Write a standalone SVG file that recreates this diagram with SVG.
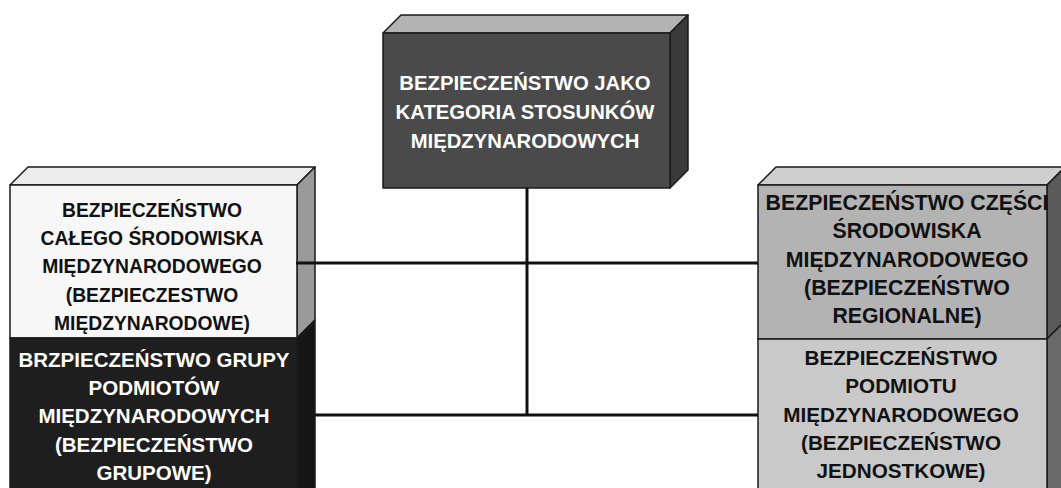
<svg xmlns="http://www.w3.org/2000/svg" width="1061" height="488" viewBox="0 0 1061 488">
<style>
.t{font-family:"Liberation Sans",Arial,sans-serif;font-weight:bold;text-anchor:middle}
.w{fill:#ffffff}
.k{fill:#111111}
.e{stroke:#1a1a1a;stroke-width:1.5;stroke-linejoin:round}
.c{stroke:#111111;stroke-width:3;fill:none}
</style>
<rect width="1061" height="488" fill="#ffffff"/>
<g id="node-top">
<polygon class="e" points="383,33 401,15 688,15 670,33" fill="#b3b3b3"/>
<polygon class="e" points="670,33 688,15 688,170 670,188" fill="#3a3a3a"/>
<rect class="e" x="383" y="33" width="287" height="155" fill="#4a4a4a"/>
<text class="t w" font-size="20.3" x="525" y="90">BEZPIECZEŃSTWO JAKO</text>
<text class="t w" font-size="20.3" x="525" y="119">KATEGORIA STOSUNKÓW</text>
<text class="t w" font-size="20.3" x="525" y="148">MIĘDZYNARODOWYCH</text>
</g>
<g id="node-left-top">
<polygon class="e" points="10,185 28,167 315,167 297,185" fill="#ececec"/>
<polygon class="e" points="297,185 315,167 315,320 297,338" fill="#9a9a9a"/>
<rect class="e" x="10" y="185" width="287" height="153" fill="#f7f7f7"/>
<text class="t k" font-size="19.3" x="152" y="217">BEZPIECZEŃSTWO</text>
<text class="t k" font-size="19.3" x="152" y="245">CAŁEGO ŚRODOWISKA</text>
<text class="t k" font-size="19.3" x="152" y="273">MIĘDZYNARODOWEGO</text>
<text class="t k" font-size="19.3" x="152" y="302">(BEZPIECZESTWO</text>
<text class="t k" font-size="19.3" x="152" y="330">MIĘDZYNARODOWE)</text>
</g>
<g id="node-left-bottom">
<polygon class="e" points="297,338 315,320 315,490 297,490" fill="#161616"/>
<rect class="e" x="10" y="338" width="287" height="152" fill="#1e1e1e"/>
<text class="t w" font-size="20.5" x="154" y="367">BRZPIECZEŃSTWO GRUPY</text>
<text class="t w" font-size="20.5" x="154" y="395">PODMIOTÓW</text>
<text class="t w" font-size="20.5" x="154" y="423">MIĘDZYNARODOWYCH</text>
<text class="t w" font-size="20.5" x="154" y="452">(BEZPIECZEŃSTWO</text>
<text class="t w" font-size="20.5" x="154" y="480">GRUPOWE)</text>
</g>
<g id="node-right-top">
<polygon class="e" points="758,185 776,167 1065,167 1047,185" fill="#cfcfcf"/>
<polygon class="e" points="1047,185 1065,167 1065,321 1047,339" fill="#5a5a5a"/>
<rect class="e" x="758" y="185" width="289" height="154" fill="#b3b3b3"/>
<text class="t k" font-size="21.3" x="907" y="210">BEZPIECZEŃSTWO CZĘŚCI</text>
<text class="t k" font-size="21.3" x="907" y="238">ŚRODOWISKA</text>
<text class="t k" font-size="21.3" x="907" y="267">MIĘDZYNARODOWEGO</text>
<text class="t k" font-size="21.3" x="907" y="295">(BEZPIECZEŃSTWO</text>
<text class="t k" font-size="21.3" x="907" y="323">REGIONALNE)</text>
</g>
<g id="node-right-bottom">
<polygon class="e" points="1047,339 1065,321 1065,490 1047,490" fill="#6a6a6a"/>
<rect class="e" x="758" y="339" width="289" height="151" fill="#c9c9c9"/>
<text class="t k" font-size="20.7" x="901" y="365">BEZPIECZEŃSTWO</text>
<text class="t k" font-size="20.7" x="901" y="393">PODMIOTU</text>
<text class="t k" font-size="20.7" x="901" y="422">MIĘDZYNARODOWEGO</text>
<text class="t k" font-size="20.7" x="901" y="450">(BEZPIECZEŃSTWO</text>
<text class="t k" font-size="20.7" x="901" y="478">JEDNOSTKOWE)</text>
</g>
<g id="connectors">
<line class="c" x1="527" y1="188" x2="527" y2="416"/>
<line class="c" x1="296" y1="263" x2="758" y2="263"/>
<line class="c" x1="315" y1="415" x2="758" y2="415"/>
</g>
</svg>
